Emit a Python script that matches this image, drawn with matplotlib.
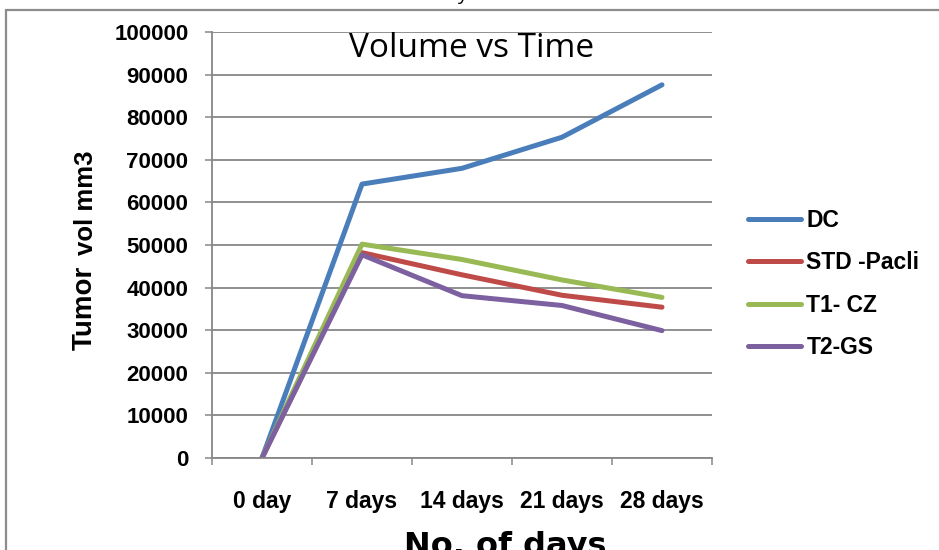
import numpy as np
import matplotlib.pyplot as plt
from matplotlib.patches import Rectangle

days = ['0 day', '7 days', '14 days', '21 days', '28 days']
dc = [0, 64300, 68000, 75300, 87600]
std_pacli = [0, 48200, 43000, 38200, 35400]
t1_cz = [0, 50200, 46600, 41800, 37700]
t2_gs = [0, 47700, 38100, 35800, 29900]

series = [
    ('DC', dc, '#4a7ebb'),
    ('STD -Pacli', std_pacli, '#be4b48'),
    ('T1- CZ', t1_cz, '#98b954'),
    ('T2-GS', t2_gs, '#7d60a0'),
]

grey = '#878787'
lab_font = 'Liberation Sans'

fig = plt.figure(figsize=(9.39, 5.5), dpi=100)
ax = fig.add_axes([212/939, 1 - 458/550, 500/939, 426/550])

x = np.arange(len(days))
for name, vals, col in series:
    ax.plot(x, vals, color=col, lw=3.6, label=name,
            solid_capstyle='round', solid_joinstyle='round')

ax.set_xlim(-0.5, len(days) - 0.5)
ax.set_ylim(0, 100000)
ax.set_yticks(np.arange(0, 100001, 10000))
ax.set_yticklabels(['%d' % v for v in np.arange(0, 100001, 10000)],
                   fontsize=16, fontweight='bold', family=lab_font)

# category boundaries as ticks, names between them
ax.set_xticks(np.arange(-0.5, len(days), 1.0))
ax.set_xticklabels([])
ax.set_xticks(x, minor=True)
ax.set_xticklabels(days, minor=True, fontsize=16.5, fontweight='bold', family=lab_font)
ax.tick_params(axis='x', which='minor', length=0, pad=23)
ax.tick_params(axis='x', which='major', length=5, width=1.1, color=grey)
ax.tick_params(axis='y', length=5, width=1.1, color=grey, pad=12)

ax.grid(axis='y', color=grey, lw=1.3)
ax.set_axisbelow(True)
for s in ['top', 'right']:
    ax.spines[s].set_visible(False)
for s in ['left', 'bottom']:
    ax.spines[s].set_color(grey)
    ax.spines[s].set_linewidth(1.3)

ax.text(0.52, 0.941, 'Volume vs Time', transform=ax.transAxes, ha='center', va='baseline',
        fontsize=24, family='Open Sans')

# y label in two sizes
fig.text(98/939, 1 - 308/550, 'Tumor', rotation=90, ha='right', va='center',
         fontsize=20, fontweight='bold', family=lab_font)
fig.text(98/939, 1 - 203/550, 'vol mm3', rotation=90, ha='right', va='center',
         fontsize=18.5, fontweight='bold', family=lab_font)

fig.text(505/939, 1 - 555/550, 'No. of days', ha='center', va='baseline',
         fontsize=23, fontweight='bold', family='DejaVu Sans')

# cropped caption tail at the very top
fig.text(462/939, 1.0, 'y', ha='center', va='baseline', fontsize=14, family='Open Sans')

ax.legend(loc='center left', bbox_to_anchor=(748/939, 1 - 284/550),
          bbox_transform=fig.transFigure, frameon=False, borderpad=0,
          borderaxespad=0, handlelength=2.3, handletextpad=0.25, labelspacing=0.85,
          prop={'family': lab_font, 'weight': 'bold', 'size': 16.5})

fig.add_artist(Rectangle((6/939, -0.1), 1.2, 1.1 - 10/550, transform=fig.transFigure,
                         fill=False, edgecolor='#8c8c8c', lw=1.6, clip_on=False))

plt.savefig('out.png', dpi=100)
